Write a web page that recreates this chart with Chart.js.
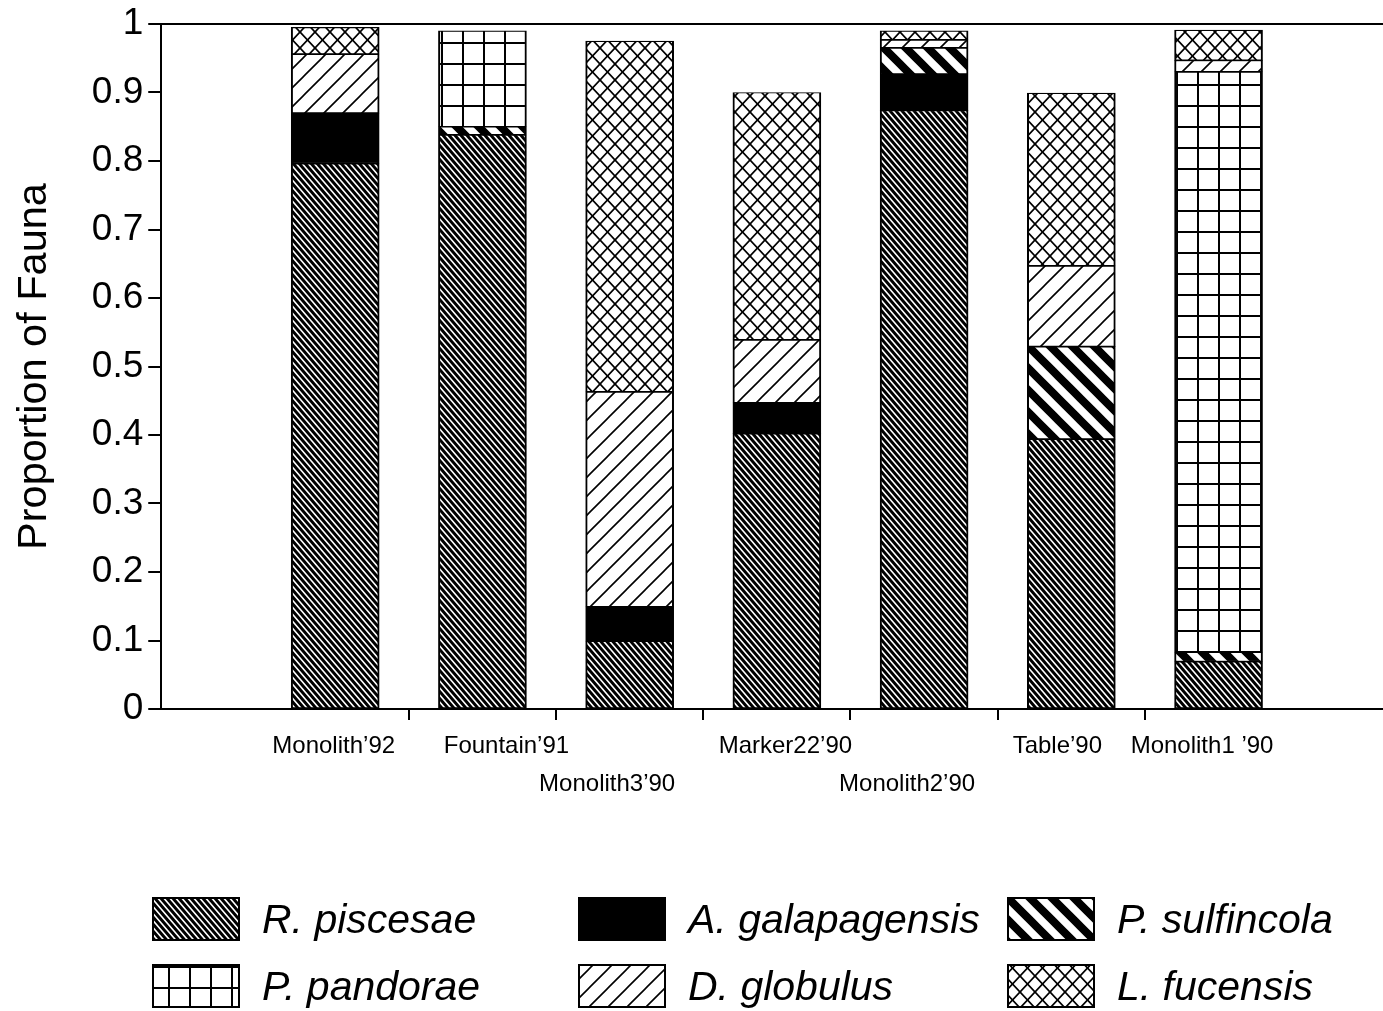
<!DOCTYPE html>
<html>
<head>
<meta charset="utf-8">
<title>Proportion of Fauna</title>
<script src="https://cdn.jsdelivr.net/npm/chart.js@4.4.1/dist/chart.umd.min.js"></script>
<style>
  html, body { margin: 0; padding: 0; background: #fff; }
  #wrap { width: 1383px; height: 1011px; }
</style>
</head>
<body>
<div id="wrap"><canvas id="chart" width="1383" height="1011"></canvas></div>
<script>
// Sites sampled (x categories)
const categories = ['Monolith’92', 'Fountain’91', 'Monolith3’90', 'Marker22’90', 'Monolith2’90', 'Table’90', 'Monolith1 ’90'];

// Proportion of fauna per species at each site (stacked bottom to top)
const rPiscesae     = [0.796, 0.838, 0.099, 0.402, 0.874, 0.394, 0.069];
const aGalapagensis = [0.074, 0.000, 0.050, 0.045, 0.053, 0.000, 0.000];
const pSulfincola   = [0.000, 0.012, 0.000, 0.000, 0.038, 0.135, 0.014];
const pPandorae     = [0.000, 0.140, 0.000, 0.000, 0.000, 0.000, 0.847];
const dGlobulus     = [0.086, 0.000, 0.314, 0.092, 0.012, 0.118, 0.017];
const lFucensis     = [0.039, 0.000, 0.512, 0.361, 0.013, 0.252, 0.044];

const speciesNames = ['R. piscesae', 'A. galapagensis', 'P. sulfincola', 'P. pandorae', 'D. globulus', 'L. fucensis'];
const yTickLabels = ['0', '0.1', '0.2', '0.3', '0.4', '0.5', '0.6', '0.7', '0.8', '0.9', '1'];

const FONT = '"Liberation Sans", Arial, Helvetica, sans-serif';

// ---- hatch fills -------------------------------------------------------
function tile(w, h, bg, draw) {
  const c = document.createElement('canvas');
  c.width = w; c.height = h;
  const g = c.getContext('2d');
  g.fillStyle = bg; g.fillRect(0, 0, w, h);
  draw(g, w, h);
  return document.getElementById('chart').getContext('2d').createPattern(c, 'repeat');
}
// diagonal lines running down-right, extended past the tile so thick strokes wrap cleanly
function backslash(g, w, h, lw, color) {
  g.strokeStyle = color; g.lineWidth = lw; g.beginPath();
  for (let k = -2; k <= 2; k++) { g.moveTo(k * w - w, -h); g.lineTo(k * w + 2 * w, 2 * h); }
  g.stroke();
}
// diagonal lines running up-right
function slash(g, w, h, lw, color) {
  g.strokeStyle = color; g.lineWidth = lw; g.beginPath();
  for (let k = -2; k <= 2; k++) { g.moveTo(k * w - w, 2 * h); g.lineTo(k * w + 2 * w, -h); }
  g.stroke();
}

const fills = [
  tile(6, 7, '#000', (g, w, h) => backslash(g, w, h, 1.6, '#fff')),          // dense dark diagonal
  '#000',                                                                   // solid black
  tile(22, 22, '#fff', (g, w, h) => backslash(g, w, h, 8, '#000')),         // bold stripes
  tile(21, 21, '#fff', (g, w, h) => { g.fillStyle = '#000'; g.fillRect(0, 0, w, 2); g.fillRect(0, 0, 2, h); }), // grid
  tile(19, 19, '#fff', (g, w, h) => slash(g, w, h, 1.6, '#000')),           // light diagonal
  tile(15, 16, '#fff', (g, w, h) => { backslash(g, w, h, 1.7, '#000'); slash(g, w, h, 1.7, '#000'); }) // crosshatch
];

const series = [rPiscesae, aGalapagensis, pSulfincola, pPandorae, dGlobulus, lFucensis];

const datasets = series.map((vals, s) => ({
  label: speciesNames[s],
  data: vals.map((v, i) => ({ x: i, y: v })),
  backgroundColor: fills[s],
  borderColor: '#000',
  borderWidth: { left: 2, right: 2, top: 1.2, bottom: 1.2 },
  borderSkipped: false,
  barThickness: 88
}));

// x-range so that category spacing and the empty margins fit the axis
const xMin = -1.1817, xMax = 7.117;
const boundaries = categories.slice(1).map((_, i) => i + 0.5);

// staggered category labels under the axis
const labelShift = [-1.5, 24, -22.5, 8.5, -17, -14, -16.5];
const labelRow   = [0, 0, 1, 0, 1, 0, 0];

const annotate = {
  id: 'annotate',
  afterDraw(chart) {
    const ctx = chart.ctx;
    const xs = chart.scales.x;
    const base = chart.chartArea.bottom;
    ctx.save();
    ctx.fillStyle = '#000';
    ctx.font = '24px ' + FONT;
    ctx.textAlign = 'center';
    ctx.textBaseline = 'middle';
    categories.forEach((name, i) => {
      const px = xs.getPixelForValue(i) + labelShift[i];
      const py = base + 37 + labelRow[i] * 38;
      ctx.fillText(name, px, py);
    });

    // legend: 3 columns x 2 rows
    const colX = [152, 578, 1007];
    const rowY = [897, 964];
    ctx.font = 'italic 41px ' + FONT;
    ctx.textAlign = 'left';
    ctx.textBaseline = 'alphabetic';
    chart.data.datasets.forEach((ds, k) => {
      const x = colX[k % 3], y = rowY[Math.floor(k / 3)];
      ctx.fillStyle = ds.backgroundColor;
      ctx.fillRect(x, y, 88, 44);
      ctx.lineWidth = 2;
      ctx.strokeStyle = '#000';
      ctx.strokeRect(x + 1, y + 1, 86, 42);
      ctx.fillStyle = '#000';
      ctx.fillText(ds.label, x + 110, y + 36);
    });
    ctx.restore();
  }
};

new Chart(document.getElementById('chart'), {
  type: 'bar',
  data: { datasets },
  plugins: [annotate],
  options: {
    responsive: false,
    animation: false,
    devicePixelRatio: 1,
    layout: { padding: { left: 0, right: 0, top: 24, bottom: 291 } },
    plugins: { legend: { display: false }, tooltip: { enabled: false } },
    scales: {
      x: {
        type: 'linear',
        min: xMin, max: xMax,
        stacked: true,
        offset: false,
        afterBuildTicks: s => { s.ticks = boundaries.map(v => ({ value: v })); },
        ticks: { display: false },
        grid: { display: true, offset: false, drawOnChartArea: false, drawTicks: true, tickLength: 11, color: '#000', lineWidth: 2 },
        border: { display: true, color: '#000', width: 2 }
      },
      y: {
        stacked: true,
        min: 0, max: 1,
        ticks: {
          stepSize: 0.1,
          callback: (v, i) => yTickLabels[i],
          font: { family: FONT, size: 37, lineHeight: 1 },
          color: '#000',
          padding: 5
        },
        grid: {
          color: c => (c.tick && Math.abs(c.tick.value - 1) < 1e-9) ? '#000' : 'rgba(0,0,0,0)',
          tickColor: '#000',
          tickLength: 13,
          lineWidth: 2,
          drawTicks: true
        },
        border: { display: true, color: '#000', width: 2 },
        title: {
          display: true,
          text: 'Proportion of Fauna',
          font: { family: FONT, size: 41.5 },
          color: '#000',
          padding: { top: 10, bottom: 27 }
        }
      }
    }
  }
});
</script>
</body>
</html>
